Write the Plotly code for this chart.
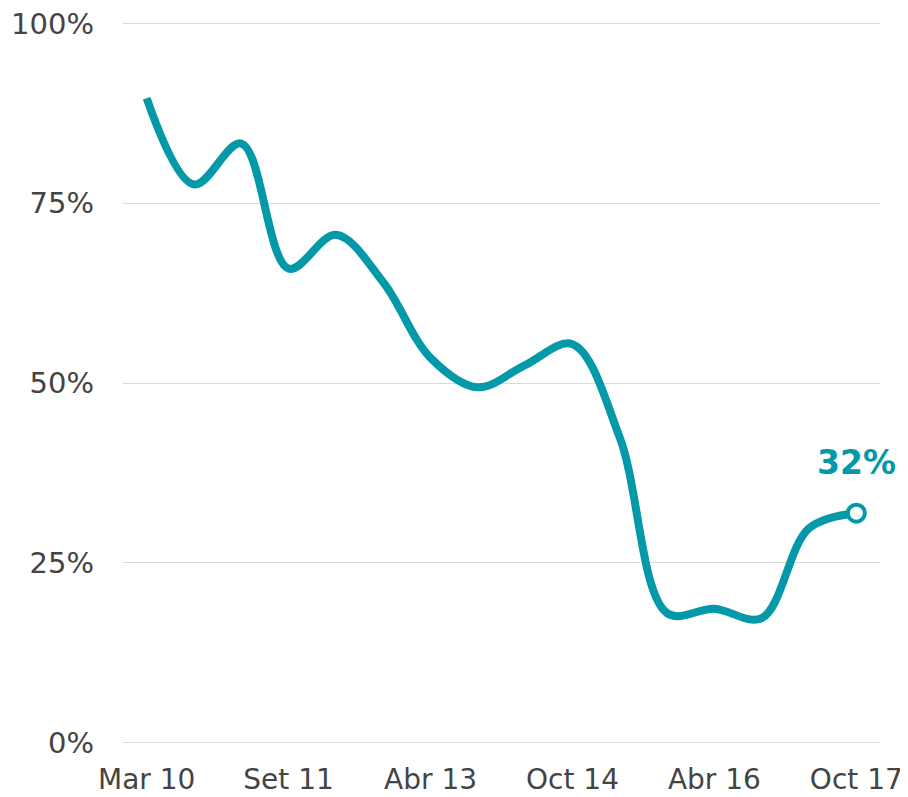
import plotly.graph_objects as go

periods = ["Mar 10", "Set 10", "Mar 11", "Set 11", "Mar 12", "Set 12", "Abr 13", "Oct 13",
           "Abr 14", "Oct 14", "Abr 15", "Oct 15", "Abr 16", "Oct 16", "Abr 17", "Oct 17"]
values = [89.6, 77.6, 83.3, 65.9, 70.6, 64.0, 53.5, 49.4, 52.5, 55.4, 42.4, 18.0, 18.6, 17.3, 29.8, 31.9]
tick_labels = ["Mar 10", "Set 11", "Abr 13", "Oct 14", "Abr 16", "Oct 17"]
y_ticks = [0, 25, 50, 75, 100]
y_tick_text = ["0%", "25%", "50%", "75%", "100%"]
end_label = "32%"

TEAL = "#0399A9"
GREY = "#444444"
FONT = "DejaVu Sans"

idx = list(range(len(periods)))
tick_idx = [periods.index(t) for t in tick_labels]

fig = go.Figure()
fig.add_trace(go.Scatter(
    x=idx, y=values, mode="lines",
    line=dict(color=TEAL, width=8, shape="spline", smoothing=1.0),
    hoverinfo="skip", showlegend=False, cliponaxis=False,
))
fig.add_trace(go.Scatter(
    x=[idx[-1]], y=[values[-1]], mode="markers",
    marker=dict(size=17, color="white", line=dict(color=TEAL, width=4)),
    hoverinfo="skip", showlegend=False, cliponaxis=False,
))
fig.add_annotation(
    x=idx[-1], y=values[-1], text=end_label, showarrow=False,
    xanchor="center", yanchor="bottom", yshift=29,
    font=dict(family=FONT, size=33, color=TEAL, weight="bold"),
)

# the page body has an 8px margin, so the figure is sized to fit the window
fig.update_layout(
    width=900, height=789,
    margin=dict(l=115, r=28, t=14, b=53, pad=0, autoexpand=False),
    paper_bgcolor="white", plot_bgcolor="white",
    font=dict(family=FONT, size=29, color=GREY),
    xaxis=dict(
        range=[-0.5, 15.5], automargin=False,
        tickmode="array", tickvals=tick_idx, ticktext=tick_labels,
        tickfont=dict(size=28),
        showgrid=False, zeroline=False, showline=False,
        ticks="", ticklabelstandoff=16, ticklabeloverflow="allow",
    ),
    yaxis=dict(
        range=[-0.2, 100.2], automargin=False,
        tickmode="array", tickvals=y_ticks, ticktext=y_tick_text,
        showgrid=True, gridcolor="#d9d9d9", gridwidth=1,
        zeroline=False, showline=False, ticks="", ticklabelstandoff=28,
        ticklabeloverflow="allow",
    ),
)

fig.write_html("out.html")
